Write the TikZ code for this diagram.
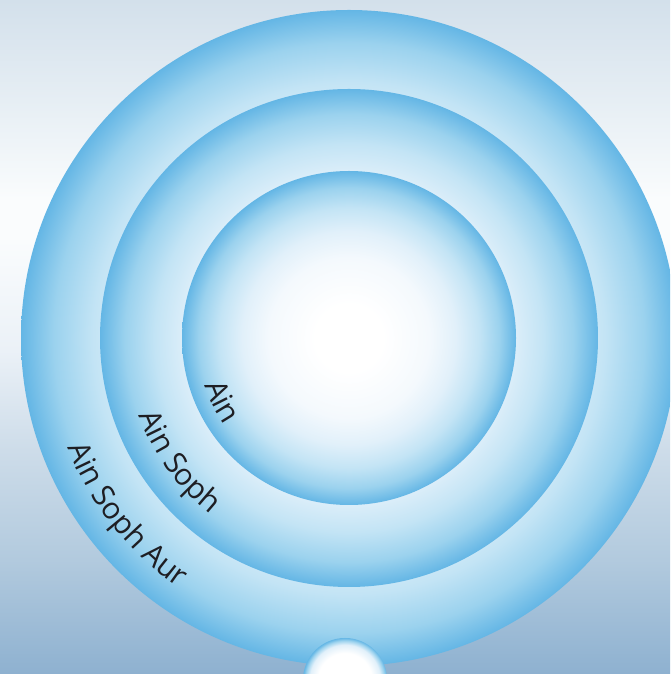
\documentclass[tikz,border=0pt]{standalone}
\usepackage{fontspec}
\newfontfamily\ringfont{Open Sans}
\usepackage{tikz}
\usetikzlibrary{decorations.text}

\definecolor{skyTop}  {RGB}{211,224,235}
\definecolor{skyHigh} {RGB}{230,238,244}
\definecolor{skyWhite}{RGB}{250,252,253}
\definecolor{skyMid}  {RGB}{235,241,247}
\definecolor{skyLow}  {RGB}{205,220,233}
\definecolor{skyDeep} {RGB}{178,202,222}
\definecolor{skyFloor}{RGB}{142,177,208}
\definecolor{orbWhite}{RGB}{244,249,253}
\definecolor{orbPale} {RGB}{225,240,250}
\definecolor{orbLight}{RGB}{195,228,245}
\definecolor{orbMid}  {RGB}{155,210,238}
\definecolor{orbEdge} {RGB}{100,182,229}
\definecolor{labelInk}{RGB}{30,30,35}

\pgfdeclareverticalshading{skyband}{100bp}{color(0bp)=(skyFloor); color(25bp)=(skyFloor);
  color(33.5bp)=(skyDeep); color(41.6bp)=(skyLow); color(49bp)=(skyMid);
  color(57.2bp)=(skyWhite); color(60.2bp)=(skyWhite); color(67.6bp)=(skyHigh);
  color(75bp)=(skyTop); color(100bp)=(skyTop)}
\pgfdeclareradialshading{orbshade}{\pgfpoint{0bp}{0bp}}{color(0bp)=(white); color(5bp)=(white);
  color(12bp)=(orbWhite); color(16bp)=(orbPale); color(19.5bp)=(orbLight);
  color(22.5bp)=(orbMid); color(25bp)=(orbEdge); color(50bp)=(orbEdge)}
\pgfdeclareradialshading{glowshade}{\pgfpoint{0bp}{0bp}}{color(0bp)=(white); color(16bp)=(white);
  color(21bp)=(orbPale); color(23.5bp)=(orbMid); color(25bp)=(orbEdge); color(50bp)=(orbEdge)}

\newcommand\ringtext{\ringfont\fontsize{15}{18}\selectfont}

\tikzset{
  sphere/.style={circle,inner sep=0pt,outer sep=0pt,shade,shading=orbshade},
  glow/.style={circle,inner sep=0pt,outer sep=0pt,shade,shading=glowshade},
  ringlabel/.style={decorate,decoration={text along path,text align=center,text color=labelInk}}
}

\begin{document}
\begin{tikzpicture}[x=0.5pt,y=0.5pt]
  \useasboundingbox (0,0) rectangle (670,674);
  \clip (0,0) rectangle (670,674);

  % sky behind
  \shade[shading=skyband] (0,0) rectangle (670,674);
  \coordinate (C) at (349,336);

  % spheres, outside in
  \node[sphere,minimum size=328pt] (aur)  at (C) {};
  \node[sphere,minimum size=249pt] (soph) at (C) {};
  \node[sphere,minimum size=167pt] (ain)  at (C) {};
  \node[glow,minimum size=42pt] (spark) at (345,-6) {};

  % names along the rims
  \path[ringlabel,decoration={text={|\ringtext|Ain}}]
    ([shift={(188:152)}]ain.center) arc[start angle=188,end angle=225,radius=152];
  \path[ringlabel,decoration={text={|\ringtext|Ain Soph}}]
    ([shift={(194:224)}]soph.center) arc[start angle=194,end angle=238,radius=224];
  \path[ringlabel,decoration={text={|\ringtext|Ain Soph Aur}}]
    ([shift={(194:302)}]aur.center) arc[start angle=194,end angle=243,radius=302];

\end{tikzpicture}
\end{document}
